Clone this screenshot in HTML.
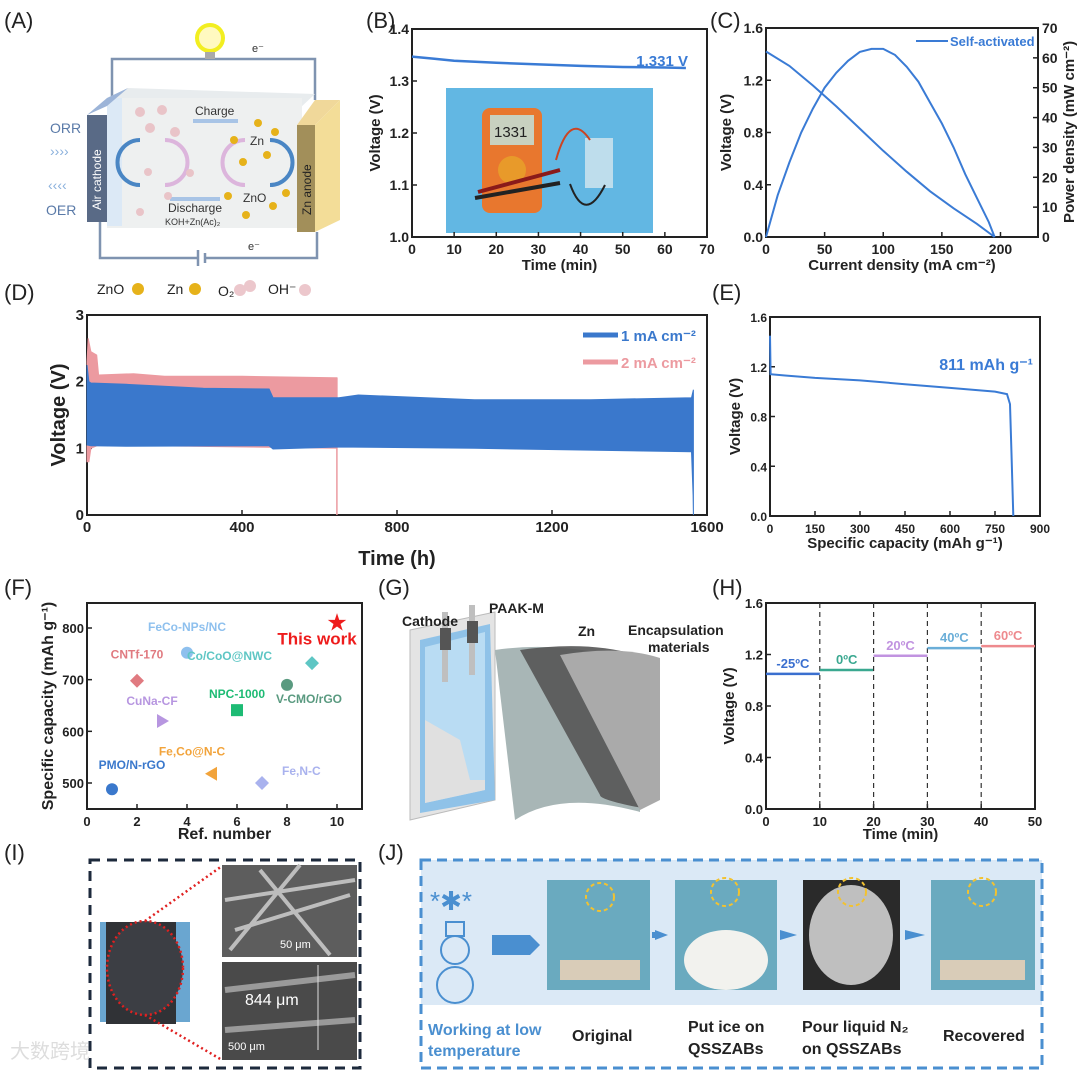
<!DOCTYPE html>
<html><head><meta charset="utf-8"><style>
html,body{margin:0;padding:0;background:#fff;}
svg{display:block;font-family:"Liberation Sans Narrow","Liberation Sans",sans-serif;}
.t{font-weight:bold;fill:#222;}
.pl{font-family:"Liberation Sans",sans-serif;font-size:22px;fill:#222;}
</style></head><body>
<svg id="fig" width="1080" height="1072" viewBox="0 0 1080 1072" xmlns="http://www.w3.org/2000/svg">
<text class="pl" x="4" y="28">(A)</text>
<text class="pl" x="366" y="28">(B)</text>
<text class="pl" x="710" y="28">(C)</text>
<text class="pl" x="4" y="300">(D)</text>
<text class="pl" x="712" y="300">(E)</text>
<text class="pl" x="4" y="595">(F)</text>
<text class="pl" x="378" y="595">(G)</text>
<text class="pl" x="712" y="595">(H)</text>
<text class="pl" x="4" y="860">(I)</text>
<text class="pl" x="378" y="860">(J)</text>

<g>
  <polyline points="112,98 112,59 315,59 315,100" fill="none" stroke="#7f93b0" stroke-width="2.5"/>
  <polyline points="100,222 100,258 198,258" fill="none" stroke="#7f93b0" stroke-width="2.5"/>
  <polyline points="205,258 317,258 317,232" fill="none" stroke="#7f93b0" stroke-width="2.5"/>
  <line x1="198" y1="250" x2="198" y2="266" stroke="#7f93b0" stroke-width="2.5"/>
  <line x1="205" y1="253" x2="205" y2="263" stroke="#7f93b0" stroke-width="2.5"/>
  <circle cx="210" cy="38" r="13" fill="#fff9c0" stroke="#f2ee20" stroke-width="4"/>
  <rect x="205" y="52" width="10" height="7" fill="#aaa"/>
  <text x="252" y="52" font-size="11" fill="#333">e⁻</text>
  <text x="248" y="250" font-size="11" fill="#333">e⁻</text>
  <polygon points="107,98 128,88 315,94 300,108" fill="#e8ecee"/>
  <rect x="107" y="98" width="195" height="130" fill="#eef0f0"/>
  <rect x="107" y="98" width="15" height="128" fill="#dce9f6"/>
  <polygon points="87,115 107,98 128,88 107,106" fill="#9cb4d8"/>
  <rect x="87" y="115" width="20" height="107" fill="#596a86"/>
  <text transform="translate(101,210) rotate(-90)" font-size="12" fill="#fff">Air cathode</text>
  <polygon points="297,125 315,100 340,100 315,125" fill="#f0d89a"/>
  <polygon points="315,125 340,100 340,220 315,232" fill="#f3dd98"/>
  <rect x="297" y="125" width="18" height="107" fill="#a28f5a"/>
  <text transform="translate(311,215) rotate(-90)" font-size="12" fill="#222">Zn anode</text>
  <text x="50" y="133" font-size="14" fill="#5a7aa8">ORR</text>
  <text x="46" y="215" font-size="14" fill="#5a7aa8">OER</text>
  <text x="50" y="156" font-size="14" fill="#8ab0dc">››››</text>
  <text x="48" y="190" font-size="14" fill="#8ab0dc">‹‹‹‹</text>
  <text x="195" y="115" font-size="12" fill="#333">Charge</text>
  <rect x="193" y="119" width="45" height="4" fill="#a8c4e6"/>
  <text x="168" y="212" font-size="12" fill="#333">Discharge</text>
  <text x="165" y="225" font-size="9" fill="#333">KOH+Zn(Ac)₂</text>
  <rect x="170" y="197" width="50" height="4" fill="#a8c4e6"/>
  <text x="250" y="145" font-size="12" fill="#333">Zn</text>
  <text x="243" y="202" font-size="12" fill="#333">ZnO</text>
  <path d="M140 140 A22 22 0 0 0 140 185" fill="none" stroke="#4a86c4" stroke-width="4"/>
  <path d="M165 140 A22 22 0 0 1 165 185" fill="none" stroke="#dcb5dc" stroke-width="4"/>
  <path d="M245 140 A22 22 0 0 0 245 185" fill="none" stroke="#dcb5dc" stroke-width="4"/>
  <path d="M270 140 A22 22 0 0 1 270 185" fill="none" stroke="#4a86c4" stroke-width="4"/>
  <g fill="#e9c4c8"><circle cx="140" cy="112" r="5"/><circle cx="162" cy="110" r="5"/><circle cx="150" cy="128" r="5"/><circle cx="175" cy="132" r="5"/><circle cx="148" cy="172" r="4"/><circle cx="190" cy="173" r="4"/><circle cx="168" cy="196" r="4"/><circle cx="140" cy="212" r="4"/></g>
  <g fill="#e6b21a"><circle cx="258" cy="123" r="4"/><circle cx="275" cy="132" r="4"/><circle cx="234" cy="140" r="4"/><circle cx="267" cy="155" r="4"/><circle cx="243" cy="162" r="4"/><circle cx="228" cy="196" r="4"/><circle cx="273" cy="206" r="4"/><circle cx="286" cy="193" r="4"/><circle cx="246" cy="215" r="4"/></g>
</g>
<g font-size="14" fill="#222">
  <text x="97" y="294">ZnO</text><circle cx="138" cy="289" r="6" fill="#e6b21a"/>
  <text x="167" y="294">Zn</text><circle cx="195" cy="289" r="6" fill="#e6b21a"/>
  <text x="218" y="296">O₂</text><circle cx="240" cy="290" r="6" fill="#ecc7cc"/><circle cx="250" cy="286" r="6" fill="#ecc7cc"/>
  <text x="268" y="294">OH⁻</text><circle cx="305" cy="290" r="6" fill="#ecc7cc"/>
</g>

<g>
  <rect x="446" y="88" width="207" height="145" fill="#62b7e3"/>
  <rect x="482" y="108" width="60" height="105" rx="8" fill="#e8772e"/>
  <rect x="490" y="115" width="44" height="30" fill="#c8d1c0"/>
  <text x="494" y="137" font-size="15" fill="#222">1331</text>
  <circle cx="512" cy="170" r="14" fill="#e89a2a"/>
  <path d="M478 192 L560 170" stroke="#8a1a1a" stroke-width="4"/>
  <path d="M475 198 L560 183" stroke="#222" stroke-width="4"/>
  <rect x="585" y="138" width="28" height="50" fill="#d6e6ee" opacity="0.8"/>
  <path d="M556 160 Q570 110 590 140" fill="none" stroke="#c42" stroke-width="2"/>
  <path d="M570 184 Q585 225 605 185" fill="none" stroke="#222" stroke-width="2"/>
</g>

<g>
  <polygon points="410,630 495,612 495,800 410,820" fill="#e4e4e4" stroke="#bbb"/>
  <polygon points="420,640 490,624 495,800 420,813" fill="#8fc2e8"/>
  <polygon points="425,647 485,632 485,790 425,803" fill="#b9dcf3"/>
  <polygon points="425,720 460,740 470,780 485,780 485,790 425,803" fill="#e0e0e0"/>
  <rect x="442" y="612" width="6" height="70" fill="#bfbfbf"/>
  <rect x="469" y="605" width="6" height="70" fill="#bfbfbf"/>
  <rect x="440" y="628" width="11" height="22" fill="#555"/>
  <rect x="467" y="621" width="11" height="22" fill="#555"/>
  <path d="M495 650 Q560 640 640 662 L640 812 Q560 790 515 820 Z" fill="#a8b6b6"/>
  <path d="M520 650 Q590 640 640 656 L642 808 Q600 800 600 795 Z" fill="#555" opacity="0.9"/>
  <path d="M560 655 Q620 645 660 658 L660 800 L640 810 Z" fill="#aaa"/>
  <text x="402" y="626" font-size="14" class="t">Cathode</text>
  <text x="489" y="613" font-size="14" class="t">PAAK-M</text>
  <text x="578" y="636" font-size="14" class="t">Zn</text>
  <text x="628" y="635" font-size="14" class="t">Encapsulation</text>
  <text x="648" y="652" font-size="14" class="t">materials</text>
</g>

<g>
  <rect x="90" y="860" width="270" height="208" fill="none" stroke="#1d2a3c" stroke-width="3" stroke-dasharray="10,7"/>
  <rect x="100" y="922" width="90" height="100" fill="#6aa6d0"/>
  <rect x="106" y="922" width="70" height="102" fill="#303236"/>
  <ellipse cx="145" cy="968" rx="38" ry="47" fill="#3c3e44" stroke="#e02020" stroke-width="2.5" stroke-dasharray="2,3"/>
  <line x1="145" y1="921" x2="222" y2="866" stroke="#e02020" stroke-width="2.5" stroke-dasharray="2,3"/>
  <line x1="145" y1="1015" x2="222" y2="1060" stroke="#e02020" stroke-width="2.5" stroke-dasharray="2,3"/>
  <rect x="222" y="865" width="135" height="92" fill="#5d5d5d"/>
  <path d="M225 900 L355 880 M235 930 L350 895 M260 870 L330 955 M230 950 L300 865" stroke="#bdbdbd" stroke-width="4"/>
  <rect x="222" y="962" width="135" height="98" fill="#4a4a4a"/>
  <path d="M225 990 L355 975 M225 1030 L355 1020" stroke="#9a9a9a" stroke-width="6"/>
  <text x="280" y="948" font-size="11" fill="#fff">50 μm</text>
  <text x="245" y="1005" font-size="16" fill="#fff">844 μm</text>
  <text x="228" y="1050" font-size="11" fill="#fff">500 μm</text>
  <line x1="318" y1="965" x2="318" y2="1050" stroke="#ddd"/>
  <text x="10" y="1058" font-size="20" fill="#ddd" font-family="'Noto Sans CJK SC',sans-serif">大数跨境</text>
</g>

<g>
  <rect x="421" y="860" width="621" height="145" fill="#dbe9f6"/>
  <rect x="421" y="860" width="621" height="208" fill="none" stroke="#4a8fd0" stroke-width="3" stroke-dasharray="10,6"/>
  <text x="430" y="910" font-size="26" fill="#4a8fd0">*✱*</text>
  <circle cx="455" cy="950" r="14" fill="none" stroke="#4a8fd0" stroke-width="2"/>
  <circle cx="455" cy="985" r="18" fill="none" stroke="#4a8fd0" stroke-width="2"/>
  <rect x="446" y="922" width="18" height="14" fill="none" stroke="#4a8fd0" stroke-width="2"/>
  <polygon points="492,935 530,935 540,945 530,955 492,955" fill="#4a8fd0"/>
  <rect x="547" y="880" width="103" height="110" fill="#6aaabf"/>
  <rect x="675" y="880" width="102" height="110" fill="#6aaabf"/>
  <ellipse cx="726" cy="960" rx="42" ry="30" fill="#f2f2ee"/>
  <rect x="803" y="880" width="97" height="110" fill="#2a2a2a"/>
  <ellipse cx="851" cy="935" rx="42" ry="50" fill="#bfbfbf"/>
  <rect x="931" y="880" width="104" height="110" fill="#6aaabf"/>
  <rect x="560" y="960" width="80" height="20" fill="#d9ccb8"/>
  <rect x="940" y="960" width="85" height="20" fill="#d9ccb8"/>
  <polygon points="655,930 668,935 655,940" fill="#4a8fd0"/><rect x="652" y="932" width="6" height="6" fill="#4a8fd0"/>
  <polygon points="780,930 797,935 780,940" fill="#4a8fd0"/>
  <polygon points="905,930 925,935 905,940" fill="#4a8fd0"/>
  <g fill="none" stroke="#f2c230" stroke-width="2" stroke-dasharray="4,3"><circle cx="600" cy="897" r="14"/><circle cx="725" cy="892" r="14"/><circle cx="852" cy="892" r="14"/><circle cx="982" cy="892" r="14"/></g>
  <text x="428" y="1035" font-size="16" style="fill:#4a8fd0;font-weight:bold">Working at low</text>
  <text x="428" y="1056" font-size="16" style="fill:#4a8fd0;font-weight:bold">temperature</text>
  <text x="572" y="1041" font-size="16" class="t">Original</text>
  <text x="688" y="1032" font-size="16" class="t">Put ice on</text>
  <text x="688" y="1054" font-size="16" class="t">QSSZABs</text>
  <text x="802" y="1032" font-size="16" class="t">Pour liquid N₂</text>
  <text x="802" y="1054" font-size="16" class="t">on QSSZABs</text>
  <text x="943" y="1041" font-size="16" class="t">Recovered</text>
</g>
<g id="charts"></g>
</svg>
<script>
// ---- Panel B data
const bTime = [0, 5, 10, 20, 30, 40, 50, 60, 65];
const bVolt = [1.347, 1.343, 1.339, 1.335, 1.332, 1.329, 1.327, 1.326, 1.325];
const bXTicks = [0, 10, 20, 30, 40, 50, 60, 70];
const bYTicks = [1.0, 1.1, 1.2, 1.3, 1.4];
// ---- Panel C data
const cCurrent = [0, 20, 40, 60, 80, 100, 120, 140, 160, 180, 195];
const cVoltage = [1.42, 1.31, 1.16, 1.0, 0.83, 0.66, 0.50, 0.35, 0.22, 0.10, 0.0];
const cPowerX = [0, 10, 20, 30, 40, 50, 60, 70, 80, 90, 100, 110, 120, 130, 140, 150, 160, 170, 180, 190, 195];
const cPower = [0, 14, 25, 35, 43, 50, 55, 59, 62, 63, 63, 61, 57, 52, 45, 38, 30, 21, 13, 5, 0];
const cXTicks = [0, 50, 100, 150, 200];
const cYTicks = [0.0, 0.4, 0.8, 1.2, 1.6];
const cY2Ticks = [0, 10, 20, 30, 40, 50, 60, 70];
// ---- Panel D data
const dBlueT = [0, 5, 10, 100, 300, 470, 480, 650, 700, 1000, 1300, 1560, 1565];
const dBlueUp = [2.25, 2.0, 1.98, 1.96, 1.90, 1.89, 1.76, 1.76, 1.80, 1.73, 1.73, 1.76, 1.88];
const dBlueLoT = [0, 10, 100, 470, 480, 650, 1000, 1560, 1564, 1565];
const dBlueLo = [1.05, 1.04, 1.03, 1.04, 0.99, 1.02, 1.0, 0.95, 0.3, 0.0];
const dPinkT = [0, 3, 10, 25, 30, 120, 200, 400, 640, 645];
const dPinkUp = [2.3, 2.65, 2.45, 2.4, 2.1, 2.12, 2.08, 2.08, 2.06, 2.06];
const dPinkLoT = [0, 5, 10, 30, 645];
const dPinkLo = [0.8, 0.8, 1.0, 1.05, 1.0];
const dPinkDropT = [645, 645];
const dPinkDropV = [2.06, 0.0];
const dXTicks = [0, 400, 800, 1200, 1600];
const dYTicks = [0, 1, 2, 3];
// ---- Panel E data
const eCap = [0, 2, 50, 150, 300, 450, 600, 700, 750, 790, 800, 805, 811];
const eVolt = [1.45, 1.14, 1.13, 1.11, 1.09, 1.06, 1.03, 1.01, 1.0, 0.98, 0.9, 0.5, 0.0];
const eXTicks = [0, 150, 300, 450, 600, 750, 900];
const eYTicks = [0.0, 0.4, 0.8, 1.2, 1.6];
// ---- Panel F data
const fNames = ["PMO/N-rGO", "CNTf-170", "CuNa-CF", "FeCo-NPs/NC", "Fe,Co@N-C", "NPC-1000", "Fe,N-C", "V-CMO/rGO", "Co/CoO@NWC", "This work"];
const fRef = [1, 2, 3, 4, 5, 6, 7, 8, 9, 10];
const fCap = [488, 698, 620, 752, 518, 641, 500, 690, 732, 811];
const fXTicks = [0, 2, 4, 6, 8, 10];
const fYTicks = [500, 600, 700, 800];
// ---- Panel H data
const hStart = [0, 10, 20, 30, 40];
const hEnd = [10, 20, 30, 40, 50];
const hVolt = [1.05, 1.08, 1.19, 1.25, 1.265];
const hLabels = ["-25ºC", "0ºC", "20ºC", "40ºC", "60ºC"];
const hXTicks = [0, 10, 20, 30, 40, 50];
const hYTicks = [0.0, 0.4, 0.8, 1.2, 1.6];

const NS = "http://www.w3.org/2000/svg";
const root = document.getElementById("charts");
function mk(tag, attrs, parent) {
  const e = document.createElementNS(NS, tag);
  for (const k in attrs) e.setAttribute(k, attrs[k]);
  (parent || root).appendChild(e);
  return e;
}
function scale(d0, d1, r0, r1) { return v => r0 + (v - d0) / (d1 - d0) * (r1 - r0); }
function txt(x, y, s, size, extra, parent) {
  const t = mk("text", Object.assign({x: x, y: y, "font-size": size, "font-weight": "bold", fill: "#222"}, extra || {}), parent);
  t.textContent = s;
  return t;
}
function axes(o) {
  const g = mk("g", {});
  
  
  const fr = mk("rect", {x: o.x0, y: o.y1, width: o.x1 - o.x0, height: o.y0 - o.y1, fill: "none", stroke: "#222", "stroke-width": 2}, g);
  
  
  o.xt.forEach(v => {
    const x = o.sx(v);
    mk("line", {x1: x, y1: o.y0, x2: x, y2: o.y0 - 5, stroke: "#222", "stroke-width": 1.5}, g);
    const t = txt(x, o.y0 + 17, o.xf ? o.xf(v) : String(v), o.fs, {"text-anchor": "middle"}, g);
    
    
  });
  o.yt.forEach(v => {
    const y = o.sy(v);
    mk("line", {x1: o.x0, y1: y, x2: o.x0 + 5, y2: y, stroke: "#222", "stroke-width": 1.5}, g);
    const t = txt(o.x0 - 3, y + 5, o.yf ? o.yf(v) : String(v), o.fs, {"text-anchor": "end"}, g);
    
    
  });
  const xl = txt((o.x0 + o.x1) / 2, o.y0 + o.xlo, o.xl, o.lfs, {"text-anchor": "middle"}, g);
  
  
  const yl = txt(0, 0, o.yl, o.lfs, {"text-anchor": "middle", transform: `translate(${o.x0 - o.ylo},${(o.y0 + o.y1) / 2}) rotate(-90)`}, g);
  
  
  return g;
}
function pathOf(xs, ys, sx, sy) { return xs.map((v, i) => (i ? "L" : "M") + sx(v).toFixed(1) + " " + sy(ys[i]).toFixed(1)).join(" "); }
const f1 = v => v.toFixed(1);

// ---- B
{
  const sx = scale(0, 70, 412, 707), sy = scale(1.0, 1.4, 237, 29);
  axes({name: "chart-b-axes", x0: 412, x1: 707, y0: 237, y1: 29, sx, sy, xt: bXTicks, yt: bYTicks, yf: f1, fs: 14, lfs: 15, xl: "Time (min)", xlo: 33, yl: "Voltage (V)", ylo: 32});
  const p = mk("path", {d: pathOf(bTime, bVolt, sx, sy), fill: "none", stroke: "#3a7bd5", "stroke-width": 2.5});
  
  
  const l = txt(688, 66, "1.331 V", 15, {"text-anchor": "end", fill: "#3a7bd5"});
  
  
}
// ---- C
{
  const sx = scale(0, 232, 766, 1038), sy = scale(0, 1.6, 237, 28), sy2 = scale(0, 70, 237, 28);
  const g = axes({name: "chart-c-axes", x0: 766, x1: 1038, y0: 237, y1: 28, sx, sy, xt: cXTicks, yt: cYTicks, yf: f1, fs: 14, lfs: 15, xl: "Current density (mA cm⁻²)", xlo: 33, yl: "Voltage (V)", ylo: 35});
  cY2Ticks.forEach(v => {
    const y = sy2(v);
    mk("line", {x1: 1038, y1: y, x2: 1033, y2: y, stroke: "#222", "stroke-width": 1.5}, g);
    const t = txt(1042, y + 5, String(v), 14, {}, g);
    
    
  });
  const y2 = txt(0, 0, "Power density (mW cm⁻²)", 15, {"text-anchor": "middle", transform: "translate(1074,132) rotate(-90)"}, g);
  
  
  const p1 = mk("path", {d: pathOf(cCurrent, cVoltage, sx, sy), fill: "none", stroke: "#3a7bd5", "stroke-width": 2});
  
  
  const p2 = mk("path", {d: pathOf(cPowerX, cPower, sx, sy2), fill: "none", stroke: "#3a7bd5", "stroke-width": 2});
  
  
  const lg = mk("line", {x1: 916, y1: 41, x2: 948, y2: 41, stroke: "#3a7bd5", "stroke-width": 2});
  
  
  const lt = txt(950, 46, "Self-activated", 13, {fill: "#3a7bd5"});
  
  
}
// ---- D
{
  const sx = scale(0, 1600, 87, 707), sy = scale(0, 3, 515, 315);
  axes({name: "chart-d-axes", x0: 87, x1: 707, y0: 515, y1: 315, sx, sy, xt: dXTicks, yt: dYTicks, fs: 15, lfs: 20, xl: "Time (h)", xlo: 50, yl: "Voltage (V)", ylo: 22});
  const pinkD = pathOf(dPinkT, dPinkUp, sx, sy) + " " + pathOf(dPinkLoT.slice().reverse(), dPinkLo.slice().reverse(), sx, sy).replace("M", "L") + " Z";
  const pk = mk("path", {d: pinkD, fill: "#ec9aa0", stroke: "#ec9aa0", "stroke-width": 1});
  
  
  const pkd = mk("path", {d: pathOf(dPinkDropT, dPinkDropV, sx, sy), fill: "none", stroke: "#ec9aa0", "stroke-width": 1.5});
  
  
  const blueD = pathOf(dBlueT, dBlueUp, sx, sy) + " " + pathOf(dBlueLoT.slice().reverse(), dBlueLo.slice().reverse(), sx, sy).replace("M", "L") + " Z";
  const bl = mk("path", {d: blueD, fill: "#3a78cc", stroke: "#3a78cc", "stroke-width": 1});
  
  
  const l1 = mk("line", {x1: 583, y1: 335, x2: 618, y2: 335, stroke: "#3a78cc", "stroke-width": 5});
  
  
  const t1 = txt(621, 341, "1 mA cm⁻²", 15, {fill: "#3a78cc"});
  
  
  const l2 = mk("line", {x1: 583, y1: 362, x2: 618, y2: 362, stroke: "#ec9aa0", "stroke-width": 5});
  
  
  const t2 = txt(621, 368, "2 mA cm⁻²", 15, {fill: "#ec9aa0"});
  
  
}
// ---- E
{
  const sx = scale(0, 900, 770, 1040), sy = scale(0, 1.6, 516, 317);
  axes({name: "chart-e-axes", x0: 770, x1: 1040, y0: 516, y1: 317, sx, sy, xt: eXTicks, yt: eYTicks, yf: f1, fs: 12, lfs: 15, xl: "Specific capacity (mAh g⁻¹)", xlo: 32, yl: "Voltage (V)", ylo: 30});
  const p = mk("path", {d: pathOf(eCap, eVolt, sx, sy), fill: "none", stroke: "#3a7bd5", "stroke-width": 2});
  
  
  const t = txt(1033, 370, "811 mAh g⁻¹", 16, {"text-anchor": "end", fill: "#3a7bd5"});
  
  
}
// ---- F
{
  const sx = scale(0, 11, 87, 362), sy = scale(500, 800, 783, 628);
  axes({name: "chart-f-axes", x0: 87, x1: 362, y0: 809, y1: 603, sx, sy, xt: fXTicks, yt: fYTicks, fs: 13, lfs: 16, xl: "Ref. number", xlo: 30, yl: "Specific capacity (mAh g⁻¹)", ylo: 34});
  const cols = ["#3a78cc", "#e07a80", "#b796e0", "#8ec0ee", "#f2a33a", "#1dbb74", "#a9b2ee", "#5a9a80", "#5ec6c4", "#ee1c1c"];
  const lx = [20, 0, -10, 0, -20, 0, 20, 22, -40, -20];
  const ly = [-20, -22, -16, -22, -18, -12, -8, 18, -3, 22];
  fRef.forEach((r, i) => {
    const x = sx(r), y = sy(fCap[i]);
    let m;
    if (i === 9) {
      m = mk("text", {x: x, y: y + 8, "font-size": 24, "text-anchor": "middle", fill: cols[i]});
      m.textContent = "★";
    } else if (i === 1 || i === 6 || i === 8) {
      m = mk("polygon", {points: `${x},${y - 7} ${x + 7},${y} ${x},${y + 7} ${x - 7},${y}`, fill: cols[i]});
    } else if (i === 5) {
      m = mk("rect", {x: x - 6, y: y - 6, width: 12, height: 12, fill: cols[i]});
    } else if (i === 2 || i === 4) {
      m = mk("polygon", {points: i === 2 ? `${x - 5},${y - 7} ${x + 7},${y} ${x - 5},${y + 7}` : `${x + 5},${y - 7} ${x - 7},${y} ${x + 5},${y + 7}`, fill: cols[i]});
    } else {
      m = mk("circle", {cx: x, cy: y, r: 6, fill: cols[i]});
    }
    
    
    const t = txt(x + lx[i], y + ly[i], fNames[i], i === 9 ? 17 : 12, {"text-anchor": i === 8 ? "end" : (i === 6 ? "start" : "middle"), fill: cols[i]});
    
    
  });
}
// ---- H
{
  const sx = scale(0, 50, 766, 1035), sy = scale(0, 1.6, 809, 603);
  axes({name: "chart-h-axes", x0: 766, x1: 1035, y0: 809, y1: 603, sx, sy, xt: hXTicks, yt: hYTicks, yf: f1, fs: 13, lfs: 15, xl: "Time (min)", xlo: 30, yl: "Voltage (V)", ylo: 32});
  const cols = ["#3a6fcf", "#3aa890", "#c193e0", "#6aaed8", "#ee8a8e"];
  hStart.forEach((s, i) => {
    if (i > 0) {
      const d = mk("line", {x1: sx(s), y1: 603, x2: sx(s), y2: 809, stroke: "#333", "stroke-width": 1.2, "stroke-dasharray": "5,4"});
      
      
    }
    const l = mk("line", {x1: sx(s), y1: sy(hVolt[i]), x2: sx(hEnd[i]), y2: sy(hVolt[i]), stroke: cols[i], "stroke-width": 2.5});
    
    
    const t = txt((sx(s) + sx(hEnd[i])) / 2, sy(hVolt[i]) - 6, hLabels[i], 13, {"text-anchor": "middle", fill: cols[i]});
    
    
  });
}
</script>
</body></html>
